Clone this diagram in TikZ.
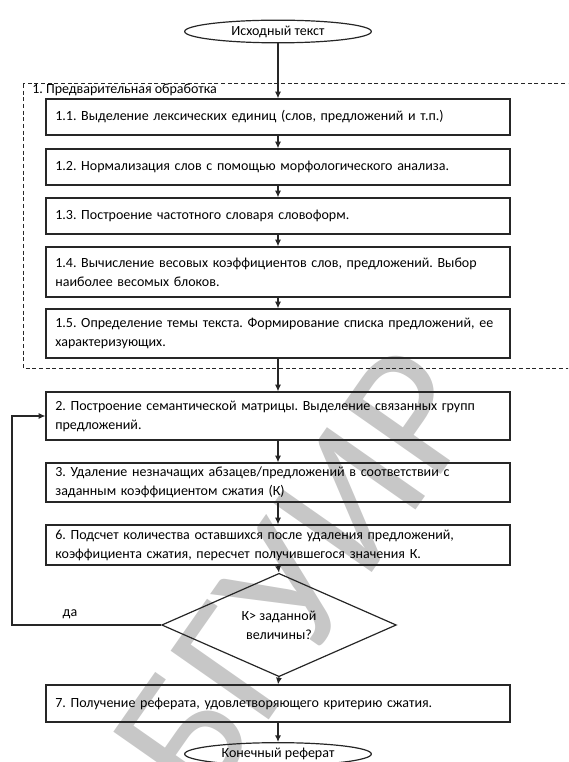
\documentclass[tikz,border=0pt]{standalone}
\usepackage{fontspec}
\setmainfont{Carlito}
\frenchspacing
\usetikzlibrary{shapes.geometric,arrows.meta}

\tikzset{
  stepbox/.style={draw=black!85, line width=0.9pt, minimum width=348pt, text width=334pt, align=left, inner xsep=7pt, inner ysep=2pt, font=\fontsize{10.5}{14.25}\selectfont},
  termnode/.style={draw=black!85, ellipse, line width=0.9pt, minimum width=140pt, minimum height=17pt, inner sep=0pt, font=\fontsize{10.5}{13}\selectfont},
  decision/.style={draw=black!85, diamond, line width=0.9pt, minimum width=176pt, minimum height=70.5pt, inner sep=0pt, align=center, font=\fontsize{10.5}{14.25}\selectfont},
  flow/.style={-{Latex[length=5pt,width=4.5pt]}, line width=0.9pt, black!85},
}

\begin{document}
\begin{tikzpicture}[x=0.75pt,y=0.75pt,yscale=-1,xscale=1]
                  \useasboundingbox (0,0) rectangle (568,762);
                  \clip (0,0) rectangle (568,762);

                  % watermark
                  \node[text=black!22, rotate=55, font=\fontsize{140}{140}\selectfont] (wmark) at (298,575) {БГУИР};

                  % preprocessing frame
                  \draw[dash pattern=on 3pt off 2pt, line width=0.75pt, black!85] (23,84) rectangle (590,368);
                  \node[anchor=west, inner sep=0.75pt, font=\fontsize{10.5}{13}\selectfont] (grp) at (31,90) {1. Предварительная обработка};

                  % Terminals
                  \node[termnode] (src) at (278,31.5) {Исходный текст};
                  \node[termnode] (res) at (278,754) {Конечный реферат};

                  % Steps
                  \node[stepbox, minimum height=27pt] (s11) at (278,117) {1.1. Выделение лексических единиц (слов, предложений и т.п.)};
                  \node[stepbox, minimum height=27pt] (s12) at (278,167) {1.2. Нормализация слов с помощью морфологического анализа.};
                  \node[stepbox, minimum height=27pt] (s13) at (278,216) {1.3. Построение частотного словаря словоформ.};
                  \node[stepbox, minimum height=37.5pt] (s14) at (278,272) {1.4. Вычисление весовых коэффициентов слов, предложений. Выбор\\наиболее весомых блоков.};
                  \node[stepbox, minimum height=36.75pt] (s15) at (278,333.5) {1.5. Определение темы текста. Формирование списка предложений, ее\\характеризующих.};
                  \node[stepbox, minimum height=36pt] (s2) at (278,416) {2. Построение семантической матрицы. Выделение связанных групп\\предложений.};
                  \node[stepbox, minimum height=29.25pt] (s3) at (278,482.5) {3. Удаление незначащих абзацев/предложений в соответствии с\\заданным коэффициентом сжатия (К)};
                  \node[stepbox, minimum height=30pt] (s6) at (278,545) {6. Подсчет количества оставшихся после удаления предложений,\\коэффициента сжатия, пересчет получившегося значения К.};
                  \node[decision] (chk) at (279,625) {К> заданной\\величины?};
                  \node[stepbox, minimum height=27.75pt] (s7) at (278,703.5) {7. Получение реферата, удовлетворяющего критерию сжатия.};

                  % Loop back
                  \coordinate (loopx) at (12,625);
                  \node[inner sep=0.75pt, font=\fontsize{10.5}{13}\selectfont] (yes) at (70,614) {да};

                  % Connectors
                  \draw[flow] (src.south) -- (s11.north);
                  \draw[flow] (s11) -- (s12);
                  \draw[flow] (s12) -- (s13);
                  \draw[flow] (s13) -- (s14);
                  \draw[flow] (s14) -- (s15);
                  \draw[flow] (s15) -- (s2);
                  \draw[flow] (s2) -- (s3);
                  \draw[flow] (s3) -- (s6);
                  \draw[flow] (s6.south) -- (chk.north);
                  \draw[flow] (chk.south) -- (s7.north);
                  \draw[flow] (s7.south) -- (res.north);
                  \draw[flow] (chk.west) -- (loopx) |- (s2.west);

\end{tikzpicture}
\end{document}
